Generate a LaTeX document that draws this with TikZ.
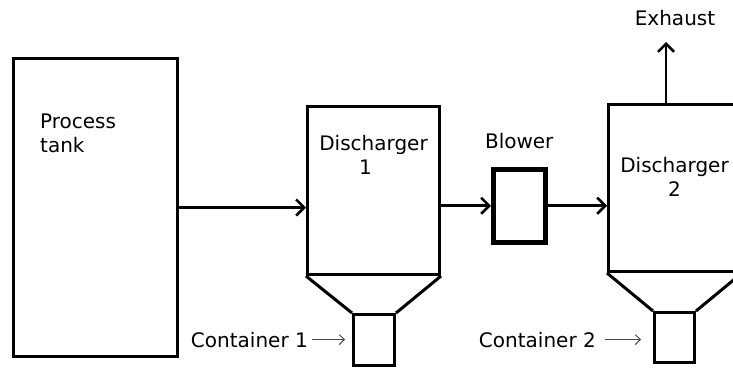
\documentclass[tikz,border=0pt]{standalone}
\usepackage{fontspec}
\setmainfont{DejaVu Sans}
\usetikzlibrary{arrows.meta,positioning,calc}
\definecolor{pointer}{RGB}{70,70,70}

\begin{document}
\begin{tikzpicture}[x=1pt,y=-1pt,
    unit/.style={draw,line width=3pt,minimum width=#1,anchor=north west,inner sep=0pt},
    lbl/.style={inner sep=0pt,font=\fontsize{20}{24}\selectfont},
    flow/.style={line width=2.6pt,-{Straight Barb[length=8pt,width=16pt]}},
    hint/.style={pointer,line width=1pt,-{Straight Barb[length=5pt,width=10pt]}}]
  \useasboundingbox (0,0) rectangle (733,368);
  \node[unit=164pt,minimum height=298pt] (tank) at (12,57) {};
  \node[unit=132pt,minimum height=168pt] (dis1) at (306,105) {};
  \node[unit=41pt,minimum height=51pt] (con1) at (352,313) {};
  \node[unit=52pt,minimum height=73pt,line width=4.5pt] (blower) at (491,167) {};
  \node[unit=132pt,minimum height=167pt] (dis2) at (607,103) {};
  \node[unit=40pt,minimum height=50pt] (con2) at (653,311) {};
  \draw[line width=3pt] (dis1.south west) -- (con1.north west) (dis1.south east) -- (con1.north east);
  \draw[line width=3pt] (dis2.south west) -- (con2.north west) (dis2.south east) -- (con2.north east);

  \node[lbl,anchor=north west,align=left] (tanklbl) at (40,114) {Process\\tank};
  \node[lbl,anchor=north,align=center] (dis1lbl) at ([yshift=-30pt]dis1.north) {Discharger\\1\hspace*{16pt}};
  \node[lbl,anchor=north,align=center] (dis2lbl) at ([yshift=-54pt]dis2.north) {Discharger\\2};
  \node[lbl,anchor=base] (blowlbl) at ([yshift=19pt]blower.north) {Blower};
  \node[lbl,anchor=base] (exhlbl) at (675,25) {Exhaust};
  \node[lbl,anchor=base east] (con1lbl) at (308,347) {Container 1};
  \node[lbl,anchor=base east] (con2lbl) at (596,347) {Container 2};
  \coordinate (exhtip) at (666,42);

  \draw[flow] (tank.east) -- (tank.east -| dis1.west);
  \draw[flow] (dis1.east |- blower.west) -- (blower.west);
  \draw[flow] (blower.east) -- (blower.east -| dis2.west);
  \draw[flow] (dis2.north -| exhtip) -- (exhtip);
  \draw[hint] ([xshift=4pt]con1lbl.east) -- ([xshift=-7pt]con1.west |- con1lbl.east);
  \draw[hint] ([xshift=9pt]con2lbl.east) -- ([xshift=-12pt]con2.west |- con2lbl.east);
\end{tikzpicture}
\end{document}
